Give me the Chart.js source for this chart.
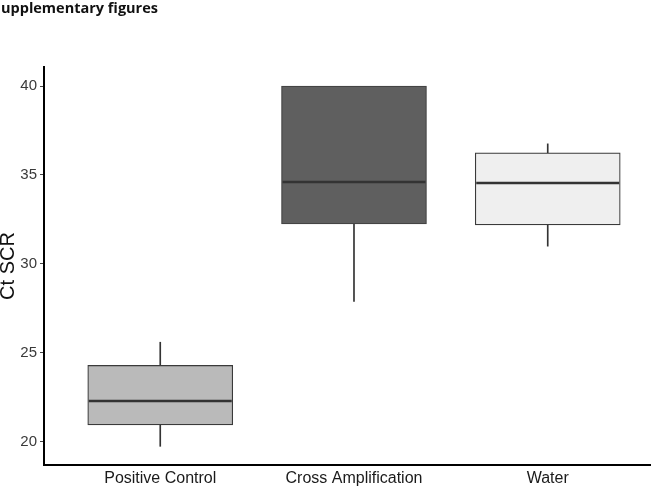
<!DOCTYPE html>
<html>
<head>
<meta charset="utf-8">
<script src="https://cdn.jsdelivr.net/npm/chart.js@4.4.1/dist/chart.umd.min.js"></script>
<style>
  body { margin: 0; background: #fff; overflow: hidden; }
  #wrap { position: relative; width: 651px; height: 501px; }
  #head {
    position: absolute; left: 1px; top: -2px;
    font: bold 14.5px "Open Sans", sans-serif; color: #111;
  }
</style>
</head>
<body>
<div id="wrap">
  <div id="head">upplementary figures</div>
  <canvas id="boxChart"></canvas>
</div>
<script>
// box plot values
var categories = ['Positive Control', 'Cross Amplification', 'Water'];
var whiskerLow = [19.75, 27.9, 31.0];
var q1 = [20.95, 32.25, 32.2];
var medians = [22.3, 34.6, 34.55];
var q3 = [24.3, 40.0, 36.25];
var whiskerHigh = [25.6, 40.0, 36.75];
var yTicks = [20, 25, 30, 35, 40];

var boxFill = ['#bababa', '#5f5f5f', '#efefef'];
var boxLine = ['#3a3a3a', '#444444', '#3a3a3a'];

function floating(lo, hi) {
    return categories.map(function (c, i) {
        // skip whiskers with no length
        if (lo[i] === hi[i]) return { x: i + 1, y: null };
        return { x: i + 1, y: [lo[i], hi[i]] };
    });
}

// median bars drawn on top of the boxes
var medianLines = {
    id: 'medianLines',
    afterDatasetsDraw: function (chart) {
        var ctx = chart.ctx;
        var ys = chart.scales.y;
        var boxes = chart.getDatasetMeta(0).data;
        ctx.save();
        ctx.strokeStyle = '#333';
        ctx.lineWidth = 2.5;
        boxes.forEach(function (bar, i) {
            var y = ys.getPixelForValue(medians[i]);
            ctx.beginPath();
            ctx.moveTo(bar.x - bar.width / 2 + 1, y);
            ctx.lineTo(bar.x + bar.width / 2 - 1, y);
            ctx.stroke();
        });
        ctx.restore();
    }
};

var ctx = document.getElementById('boxChart');
var chart = new Chart(ctx, {
    type: 'bar',
    data: {
        datasets: [{
            label: 'box',
            data: floating(q1, q3),
            backgroundColor: boxFill,
            borderColor: boxLine,
            borderWidth: 1.2,
            borderSkipped: false,
            barThickness: 145,
            grouped: false,
            order: 1
        }, {
            label: 'lower whisker',
            data: floating(whiskerLow, q1),
            backgroundColor: '#333',
            barThickness: 1,
            grouped: false,
            order: 2
        }, {
            label: 'upper whisker',
            data: floating(q3, whiskerHigh),
            backgroundColor: '#333',
            barThickness: 1,
            grouped: false,
            order: 2
        }]
    },
    options: {
        responsive: true,
        maintainAspectRatio: false,
        animation: false,
        layout: { padding: { top: 67, left: 0, right: 0, bottom: 0 } },
        plugins: { legend: { display: false }, tooltip: { enabled: false } },
        scales: {
            x: {
                type: 'linear',
                offset: false,
                min: 0.4,
                max: 3.533,
                grid: { display: false, drawTicks: false, offset: false },
                border: { color: '#000', width: 2 },
                afterBuildTicks: function (s) {
                    s.ticks = categories.map(function (c, i) { return { value: i + 1 }; });
                },
                afterFit: function (s) { s.height = 36; },
                ticks: {
                    padding: 4,
                    maxRotation: 0,
                    autoSkip: false,
                    color: '#1a1a1a',
                    font: { family: 'Liberation Sans', size: 16 },
                    callback: function (v) { return categories[v - 1]; }
                }
            },
            y: {
                min: 18.7,
                max: 41.07,
                grid: { drawOnChartArea: false, tickLength: 4, color: '#444' },
                border: { color: '#000', width: 2 },
                afterBuildTicks: function (s) {
                    s.ticks = yTicks.map(function (v) { return { value: v }; });
                },
                afterFit: function (s) { s.width = 44; },
                ticks: {
                    padding: 3,
                    color: '#3a3a3a',
                    font: { family: 'Liberation Sans', size: 15 }
                },
                title: {
                    display: true,
                    text: 'Ct SCR',
                    color: '#111',
                    padding: { top: -2, bottom: 0 },
                    font: { family: 'Liberation Sans', size: 20, lineHeight: 1 }
                }
            }
        }
    },
    plugins: [medianLines]
});
</script>
</body>
</html>
